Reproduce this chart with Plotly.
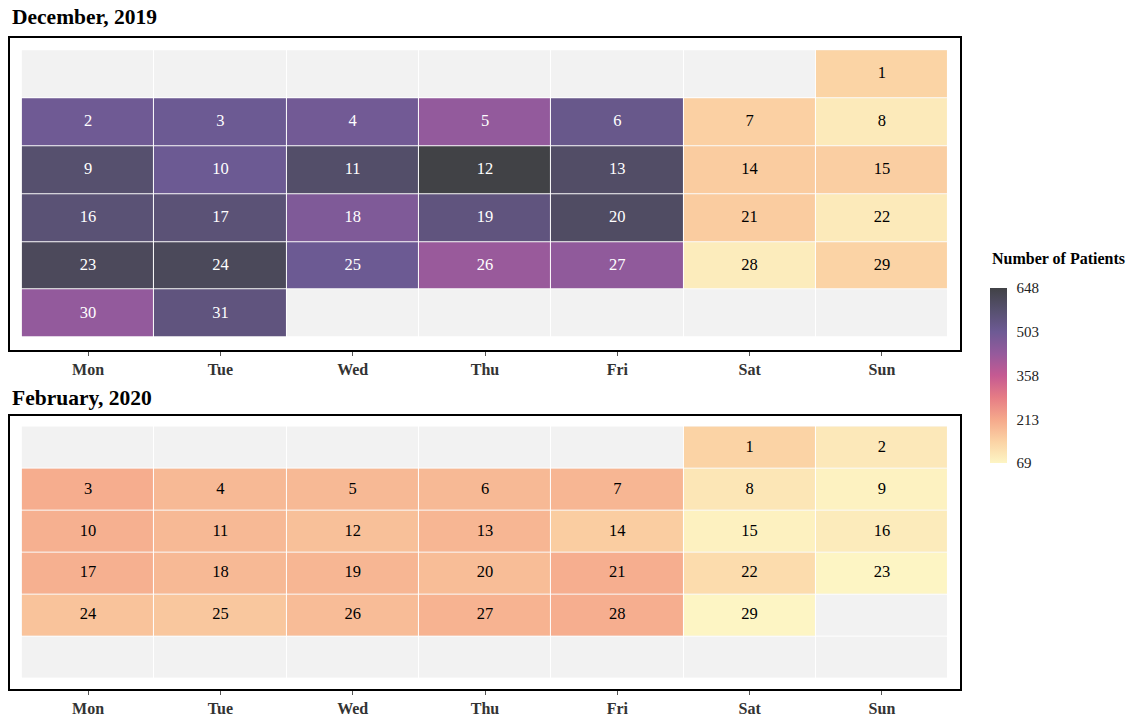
import datetime
import plotly.graph_objects as go

# daily patient counts
dec_2019 = [138, 500, 505, 495, 435, 520, 145, 92, 575, 505,
            585, 648, 590, 152, 148, 562, 560, 470, 545, 595,
            152, 92, 610, 612, 505, 425, 440, 88, 140, 435, 545]
feb_2020 = [140, 95, 205, 185, 185, 185, 190, 100, 75, 200,
            185, 172, 190, 150, 78, 90, 200, 185, 190, 178,
            203, 120, 70, 168, 160, 180, 195, 203, 69]

weekdays = ["Mon", "Tue", "Wed", "Thu", "Fri", "Sat", "Sun"]
cbar_ticks = [69, 213, 358, 503, 648]
zmin, zmax = 69, 648

# faded magma-like palette sampled from the legend bar
colorscale = [
    [0.0, "#fdf5c4"], [0.125, "#fbd2a4"], [0.25, "#f5a88b"],
    [0.375, "#e67c85"], [0.5, "#c55a92"], [0.625, "#955a9c"],
    [0.75, "#6d5a94"], [0.875, "#56506e"], [1.0, "#414246"],
]

FONT = "Liberation Serif"
W, H = 1135, 717


def px(x):
    return x / W


def py(y):
    return 1 - y / H


def month_grid(year, month, values):
    first = datetime.date(year, month, 1).weekday()
    z = [[None] * 7 for _ in range(6)]
    xs, ys, txt, cols = [], [], [], []
    for i, v in enumerate(values):
        day = i + 1
        wd = datetime.date(year, month, day).weekday()
        row = (day + first - 1) // 7
        z[row][wd] = v
        xs.append(wd)
        ys.append(row)
        txt.append(str(day))
        cols.append("white" if v > 300 else "black")
    return z, xs, ys, txt, cols


fig = go.Figure()

panels = [(2019, 12, dec_2019, "", [py(352), py(38)]),
          (2020, 2, feb_2020, "2", [py(693), py(418)])]

for year, month, vals, ax, ydom in panels:
    z, xs, ys, txt, cols = month_grid(year, month, vals)
    xa, ya = "x" + ax, "y" + ax
    # grey background for empty cells
    fig.add_trace(go.Heatmap(
        z=[[1] * 7 for _ in range(6)], x=list(range(7)), y=list(range(6)),
        colorscale=[[0, "#f2f2f2"], [1, "#f2f2f2"]], showscale=False,
        xgap=1, ygap=1, hoverinfo="skip", xaxis=xa, yaxis=ya))
    fig.add_trace(go.Heatmap(
        z=z, x=list(range(7)), y=list(range(6)),
        colorscale=colorscale, zmin=zmin, zmax=zmax,
        xgap=1, ygap=1, showscale=(ax == ""),
        colorbar=dict(
            x=px(990), xanchor="left", xpad=0,
            y=py(377.5), yanchor="middle", ypad=0,
            len=176 / H, thickness=17, outlinewidth=0,
            tickvals=cbar_ticks, ticktext=[str(t) for t in cbar_ticks],
            ticks="outside", ticklen=7, tickcolor="white",
            tickfont=dict(family=FONT, size=15, color="#222"),
        ),
        xaxis=xa, yaxis=ya))
    fig.add_trace(go.Scatter(
        x=xs, y=ys, text=txt, mode="text",
        textfont=dict(family=FONT, size=16.5, color=cols),
        hoverinfo="skip", showlegend=False, xaxis=xa, yaxis=ya))

    fig.layout["xaxis" + ax] = dict(
        domain=[px(10), px(960)], range=[-0.59, 6.59],
        tickvals=list(range(7)), ticktext=[f"<b>{d}</b>" for d in weekdays],
        showline=True, mirror=True, linecolor="black", linewidth=1.5,
        ticks="outside", ticklen=4, tickcolor="#555",
        ticklabelstandoff=0,
        showgrid=False, zeroline=False, anchor=ya,
        tickfont=dict(family=FONT, size=16, color="#333"),
    )
    fig.layout["yaxis" + ax] = dict(
        domain=ydom, range=[5.76, -0.76],
        showticklabels=False, showline=True, mirror=True,
        linecolor="black", linewidth=1.5, ticks="",
        showgrid=False, zeroline=False, anchor=xa,
    )

fig.update_layout(
    width=W, height=H,
    margin=dict(l=0, r=0, t=0, b=0),
    paper_bgcolor="white", plot_bgcolor="white",
    showlegend=False,
    font=dict(family=FONT),
    annotations=[
        dict(text="<b>December, 2019</b>", x=px(10), y=py(17),
             xref="paper", yref="paper", xanchor="left", yanchor="middle",
             showarrow=False, font=dict(family=FONT, size=21.5, color="black")),
        dict(text="<b>February, 2020</b>", x=px(10), y=py(400),
             xref="paper", yref="paper", xanchor="left", yanchor="middle",
             showarrow=False, font=dict(family=FONT, size=21.5, color="black")),
        dict(text="<b>Number of Patients</b>", x=px(990), y=py(260),
             xref="paper", yref="paper", xanchor="left", yanchor="middle",
             showarrow=False, font=dict(family=FONT, size=16, color="black")),
    ],
)

# pin the 1135x717 figure to the window's top-left corner
fig.write_html(
    "out.html",
    config={"displayModeBar": False},
    post_script="var d=document.getElementsByClassName('plotly-graph-div')[0];"
                "d.style.position='fixed';d.style.top='0';d.style.left='0';"
                "document.body.style.margin='0';"
                "document.body.style.overflow='hidden';",
)
